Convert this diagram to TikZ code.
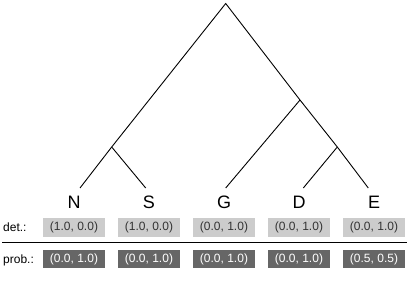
\documentclass[tikz,border=0pt]{standalone}
\usepackage{xcolor}
\usepackage{tikz}
\usetikzlibrary{positioning}
\usepackage{fontspec}
\setmainfont{Liberation Sans}
\definecolor{detgray}{HTML}{CCCCCC}
\definecolor{probgray}{HTML}{666666}
\definecolor{txtgray}{HTML}{333333}

\begin{document}
\begin{tikzpicture}[
   x=1pt, y=-1pt,
   leaf/.style={inner sep=0pt, font=\fontsize{18}{18}\selectfont},
   detbox/.style={fill=detgray, text=txtgray, minimum width=62pt, minimum height=18.5pt,
                  inner sep=0pt, font=\fontsize{12}{12}\selectfont},
   probbox/.style={fill=probgray, text=white, minimum width=62pt, minimum height=18.5pt,
                   inner sep=0pt, font=\fontsize{12}{12}\selectfont},
   rowlabel/.style={anchor=west, inner sep=0pt, font=\fontsize{12}{12}\selectfont},
   branch/.style={draw, line width=0.9pt}]
  \useasboundingbox (0,0) rectangle (407,288);

  % tree
  \coordinate (root) at (225.7,3.5);
  \coordinate (ns) at (111.7,147);
  \coordinate (gde) at (300,100);
  \coordinate (de) at (337.3,147);
  \coordinate (tN) at (80,188);
  \coordinate (tS) at (145.7,188);
  \coordinate (tG) at (225.7,188);
  \coordinate (tD) at (303.3,188);
  \coordinate (tE) at (368.3,188);

  \draw[branch] (tN) -- (ns) -- (root) -- (gde) -- (de) -- (tE);
  \draw[branch] (ns) -- (tS);
  \draw[branch] (gde) -- (tG);
  \draw[branch] (de) -- (tD);

  % leaves
  \node[leaf] (lN) at (74,202) {N};
  \node[leaf] (lS) at (149,202) {S};
  \node[leaf] (lG) at (224,202) {G};
  \node[leaf] (lD) at (299,202) {D};
  \node[leaf] (lE) at (374,202) {E};

  % deterministic
  \node[rowlabel] (det) at (3,227) {det.:};
  \node[detbox] (dN) at (74,227.3) {(1.0, 0.0)};
  \node[detbox] (dS) at (149,227.3) {(1.0, 0.0)};
  \node[detbox] (dG) at (224,227.3) {(0.0, 1.0)};
  \node[detbox] (dD) at (299,227.3) {(0.0, 1.0)};
  \node[detbox] (dE) at (374,227.3) {(0.0, 1.0)};

  \coordinate (sepL) at (2,242.7);
  \coordinate (sepR) at (407,242.7);
  \draw[line width=0.9pt] (sepL) -- (sepR);

  % probabilistic
  \node[rowlabel] (prob) at (3,260) {prob.:};
  \node[probbox] (pN) at (74,259.2) {(0.0, 1.0)};
  \node[probbox] (pS) at (149,259.2) {(0.0, 1.0)};
  \node[probbox] (pG) at (224,259.2) {(0.0, 1.0)};
  \node[probbox] (pD) at (299,259.2) {(0.0, 1.0)};
  \node[probbox] (pE) at (374,259.2) {(0.5, 0.5)};
\end{tikzpicture}
\end{document}
